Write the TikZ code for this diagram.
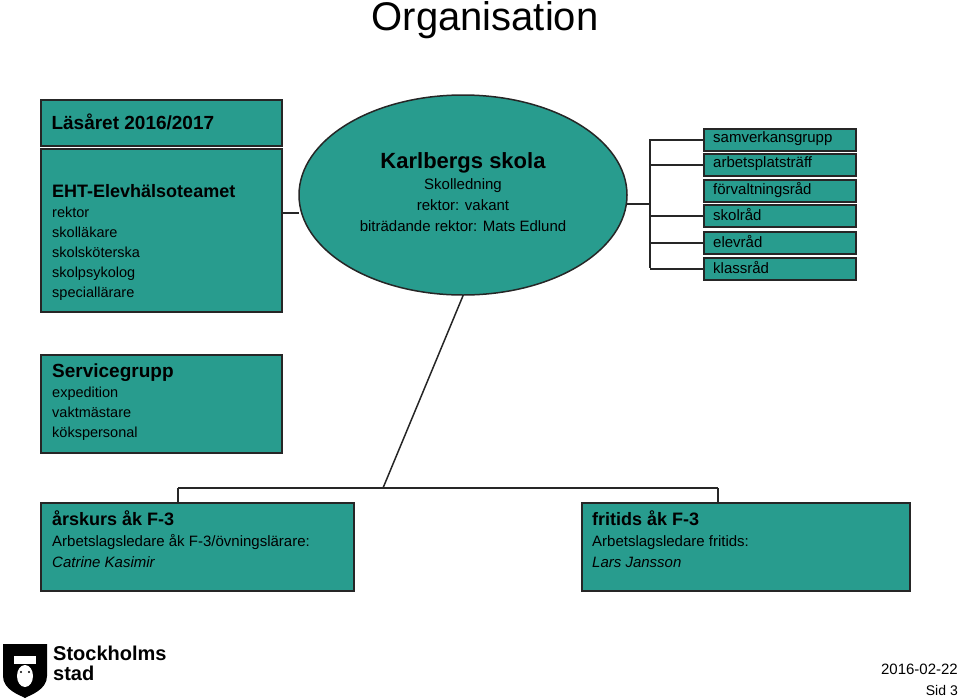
\documentclass[tikz,border=0pt]{standalone}
\usepackage{fontspec}
\setmainfont{Liberation Sans}
\usetikzlibrary{shapes.geometric}
\newcommand{\mybig}[1]{{\fontsize{#1}{#1}\selectfont}}
\begin{document}
\begin{tikzpicture}[x=1pt,y=-1pt,
 box/.style={draw=black!85,line width=1.5pt,fill=teal1,anchor=north west,inner sep=0pt},
 ln/.style={draw=black!85,line width=1.5pt},
 txt/.style={anchor=north west,inner sep=0pt}]
\definecolor{teal1}{RGB}{40,156,142}
\useasboundingbox (0,0) rectangle (960,699);
\node (title) at (485,20) {\fontsize{40}{44}\selectfont Organisation};
% left boxes
\node[box,minimum width=241,minimum height=46] (las) at (40,99) {};
\node[anchor=west] at (48,122) {\fontsize{19}{22}\selectfont\bfseries Läsåret 2016/2017};
\node[box,minimum width=241,minimum height=163] (eht) at (40,148) {};
\node[txt] (ehtt) at (52,184) {\begin{minipage}[t]{225pt}\raggedright
\fontsize{18}{21}\selectfont\bfseries EHT-Elevhälsoteamet\par
\fontsize{14.5}{20}\selectfont\mdseries rektor\par skolläkare\par skolsköterska\par skolpsykolog\par speciallärare\end{minipage}};
% ellipse
\node[draw=black!85,line width=1.5pt,fill=teal1,ellipse,minimum width=328,minimum height=200,inner sep=0pt] (ell) at (463,195) {};
\node[txt,anchor=north] (ellt) at (463,152) {\begin{minipage}[t]{300pt}\centering
\fontsize{22}{27}\selectfont\bfseries Karlbergs skola\par
\fontsize{15}{21}\selectfont\mdseries Skolledning\par rektor: vakant\par biträdande rektor: Mats Edlund\end{minipage}};
\coordinate (el) at (299,213);
\draw[ln] (281,213) -- (el);
% right list
\foreach \n/\y/\t in {a/128/samverkansgrupp,b/153/arbetsplatsträff,c/179/förvaltningsråd,d/204/skolråd,e/231/elevråd,f/257/klassråd}{
 \node[box,minimum width=152,minimum height=22] (\n) at (703,\y) {};
 \node[anchor=west,inner sep=0pt] at (713,\y+11) {\fontsize{15}{18}\selectfont \t};
}
\coordinate (er) at (627,204);
\coordinate (vt) at (650,139); \coordinate (vb) at (650,268);
\draw[ln] (vt) -- (vb);
\draw[ln] (er) -- (650,204);
\foreach \n in {a,b,d,e,f} \draw[ln] (650,0 |- \n.west) -- (\n.west);
% service
\node[box,minimum width=241,minimum height=98] (srv) at (40,354) {};
\node[txt] at (52,364) {\begin{minipage}[t]{225pt}\raggedright
\fontsize{19}{22}\selectfont\bfseries Servicegrupp\par
\fontsize{14.5}{20}\selectfont\mdseries expedition\par vaktmästare\par kökspersonal\end{minipage}};
% tree
\draw[ln] (ell.south) -- (383,488);
\draw[ln] (178,488) -- (718,488);
\node[box,minimum width=313,minimum height=88] (ars) at (40,502) {};
\node[box,minimum width=328,minimum height=88] (fri) at (581,502) {};
\draw[ln] (178,488) -- (178,502);
\draw[ln] (718,488) -- (718,502);
\node[txt] at (52,510) {\begin{minipage}[t]{300pt}\raggedright
\fontsize{18}{22}\selectfont\bfseries årskurs åk F-3\par
\fontsize{15}{21}\selectfont\mdseries Arbetslagsledare åk F-3/övningslärare:\par\itshape Catrine Kasimir\end{minipage}};
\node[txt] at (592,510) {\begin{minipage}[t]{300pt}\raggedright
\fontsize{18}{22}\selectfont\bfseries fritids åk F-3\par
\fontsize{15}{21}\selectfont\mdseries Arbetslagsledare fritids:\par\itshape Lars Jansson\end{minipage}};
% logo
\fill[black] (3,644) -- (47,644) -- (47,676) .. controls (47,690) and (30,695) .. (25,698) .. controls (20,695) and (3,690) .. (3,676) -- cycle;
\fill[white] (25,676) ellipse (8 and 11);
\fill[white] (14,656) -- (36,656) -- (36,664) -- (14,664) -- cycle;
\fill[black] (21,672) circle (1.2) (29,672) circle (1.2);
\node[txt] at (53,646) {\begin{minipage}[t]{120pt}\fontsize{20}{20}\selectfont\bfseries Stockholms\par stad\end{minipage}};
\node[anchor=east,inner sep=0pt] at (958,669) {\fontsize{15}{18}\selectfont 2016-02-22};
\node[anchor=east,inner sep=0pt] at (958,690) {\fontsize{14}{18}\selectfont Sid 3};
\end{tikzpicture}
\end{document}
